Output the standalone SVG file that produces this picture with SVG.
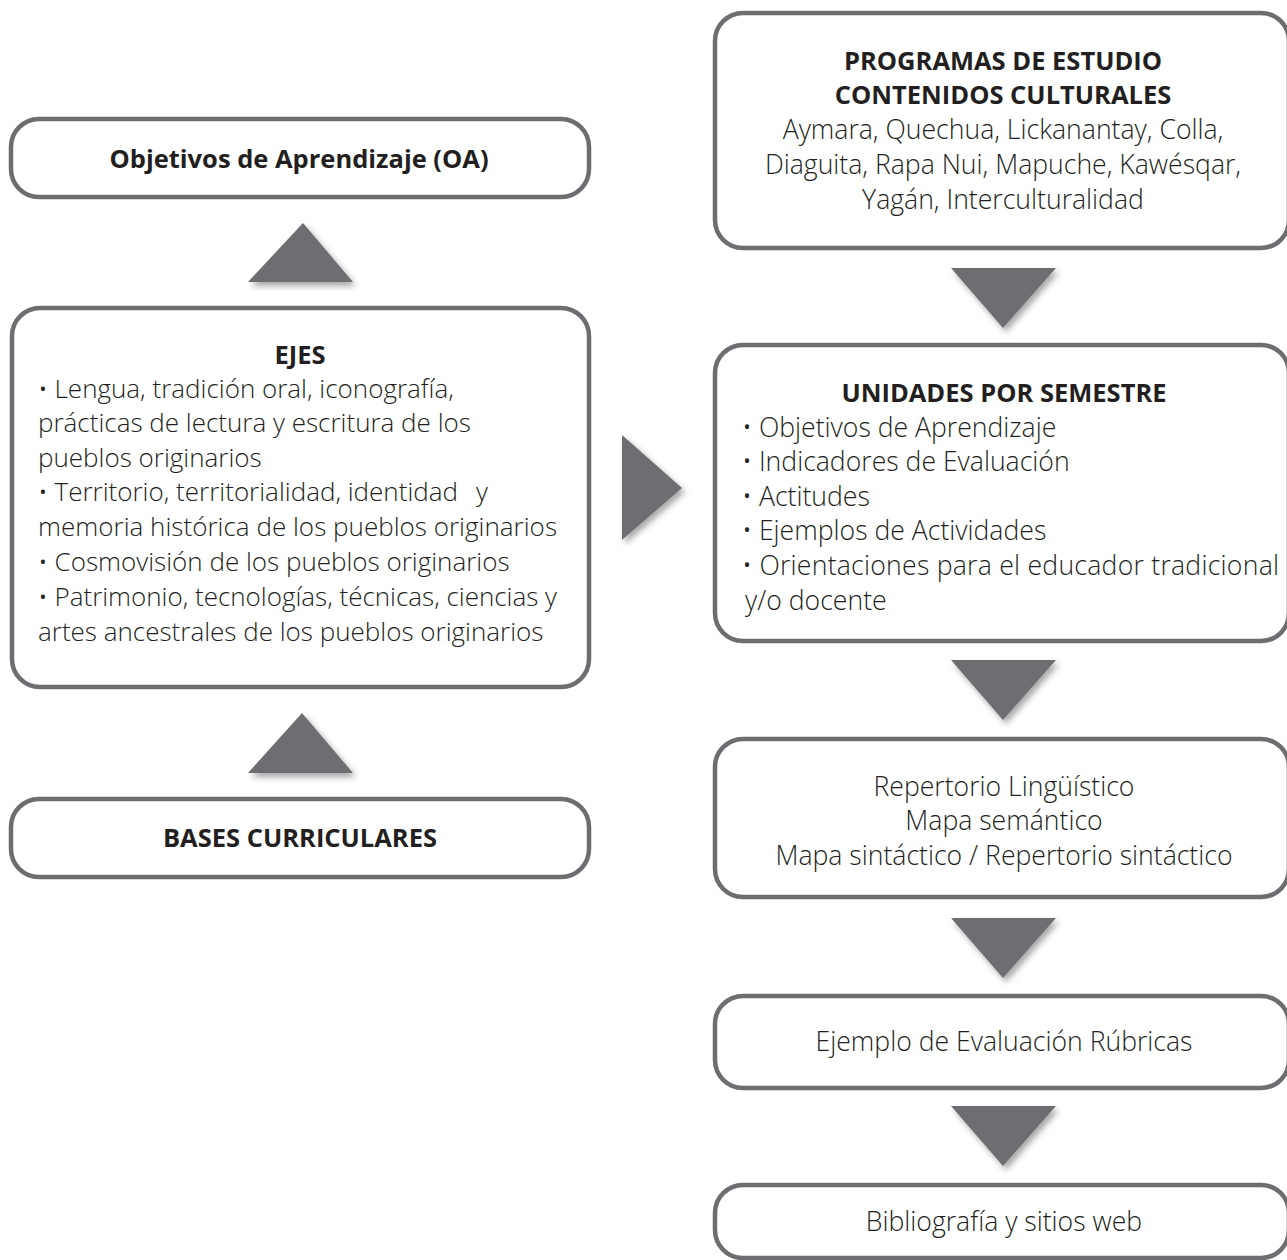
<svg xmlns="http://www.w3.org/2000/svg" width="1287" height="1260" viewBox="0 0 1287 1260">
<style>
.box{fill:#fff;stroke:#6d6e71;stroke-width:4.5}
.arrow{fill:#6d6e71;filter:url(#sh)}
text{font-family:"Open Sans","Noto Sans","DejaVu Sans",sans-serif;fill:#231f20;font-size:25.5px}
.b{font-weight:700}
.l{font-weight:300;font-size:26px}
.r{font-weight:300;font-size:26.6px}
.c{text-anchor:middle}
</style>
<defs>
<filter id="sh" x="-30%" y="-30%" width="160%" height="160%">
<feDropShadow dx="3" dy="4" stdDeviation="3" flood-color="#000" flood-opacity="0.35"/>
</filter>
</defs>
<g id="connectors">
<polygon class="arrow" points="303,223 353,282 248,282"/>
<polygon class="arrow" points="302,713 353,773 248,773"/>
<polygon class="arrow" points="622,435 682,488 622,540"/>
<polygon class="arrow" points="951,268 1056,268 1003,328"/>
<polygon class="arrow" points="951,660 1056,660 1003,720"/>
<polygon class="arrow" points="951,918 1056,918 1003,978"/>
<polygon class="arrow" points="951,1106 1056,1106 1003,1166"/>
</g>
<g id="oa">
<rect class="box" x="11" y="119" width="578" height="78" rx="28"/>
<text class="b c" x="299" y="168">Objetivos de Aprendizaje (OA)</text>
</g>
<g id="ejes">
<rect class="box" x="12" y="308" width="577" height="379" rx="28"/>
<text class="b c" x="300" y="364">EJES</text>
<text class="l" x="38" y="398">• Lengua, tradición oral, iconografía,</text>
<text class="l" x="38" y="432">prácticas de lectura y escritura de los</text>
<text class="l" x="38" y="467">pueblos originarios</text>
<text class="l" x="38" y="501">• Territorio, territorialidad, identidad</text>
<text class="l" x="476" y="501">y</text>
<text class="l" x="38" y="536" textLength="519" lengthAdjust="spacing">memoria histórica de los pueblos originarios</text>
<text class="l" x="38" y="571">• Cosmovisión de los pueblos originarios</text>
<text class="l" x="38" y="606" textLength="519" lengthAdjust="spacing">• Patrimonio, tecnologías, técnicas, ciencias y</text>
<text class="l" x="38" y="641">artes ancestrales de los pueblos originarios</text>
</g>
<g id="bases">
<rect class="box" x="11" y="799" width="578" height="78" rx="28"/>
<text class="b c" x="300" y="847">BASES CURRICULARES</text>
</g>
<g id="programas">
<rect class="box" x="715" y="13" width="574" height="235" rx="28"/>
<text class="b c" x="1003" y="70">PROGRAMAS DE ESTUDIO</text>
<text class="b c" x="1003" y="104">CONTENIDOS CULTURALES</text>
<text class="r c" x="1003" y="139">Aymara, Quechua, Lickanantay, Colla,</text>
<text class="r c" x="1003" y="174">Diaguita, Rapa Nui, Mapuche, Kawésqar,</text>
<text class="r c" x="1003" y="209">Yagán, Interculturalidad</text>
</g>
<g id="unidades">
<rect class="box" x="715" y="345" width="574" height="296" rx="28"/>
<text class="b c" x="1004" y="402">UNIDADES POR SEMESTRE</text>
<text class="r" x="742" y="437">• Objetivos de Aprendizaje</text>
<text class="r" x="742" y="471">• Indicadores de Evaluación</text>
<text class="r" x="742" y="506">• Actitudes</text>
<text class="r" x="742" y="540">• Ejemplos de Actividades</text>
<text class="r" x="742" y="575" textLength="537" lengthAdjust="spacing">• Orientaciones para el educador tradicional</text>
<text class="r" x="745" y="610">y/o docente</text>
</g>
<g id="repertorio">
<rect class="box" x="715" y="739" width="574" height="158" rx="28"/>
<text class="r c" x="1004" y="796">Repertorio Lingüístico</text>
<text class="r c" x="1004" y="830">Mapa semántico</text>
<text class="r c" x="1004" y="865">Mapa sintáctico / Repertorio sintáctico</text>
</g>
<g id="ejemplo">
<rect class="box" x="715" y="996" width="574" height="92" rx="28"/>
<text class="r c" x="1004" y="1051">Ejemplo de Evaluación Rúbricas</text>
</g>
<g id="bibliografia">
<rect class="box" x="715" y="1185" width="574" height="73" rx="28"/>
<text class="r c" x="1004" y="1231">Bibliografía y sitios web</text>
</g>
</svg>
